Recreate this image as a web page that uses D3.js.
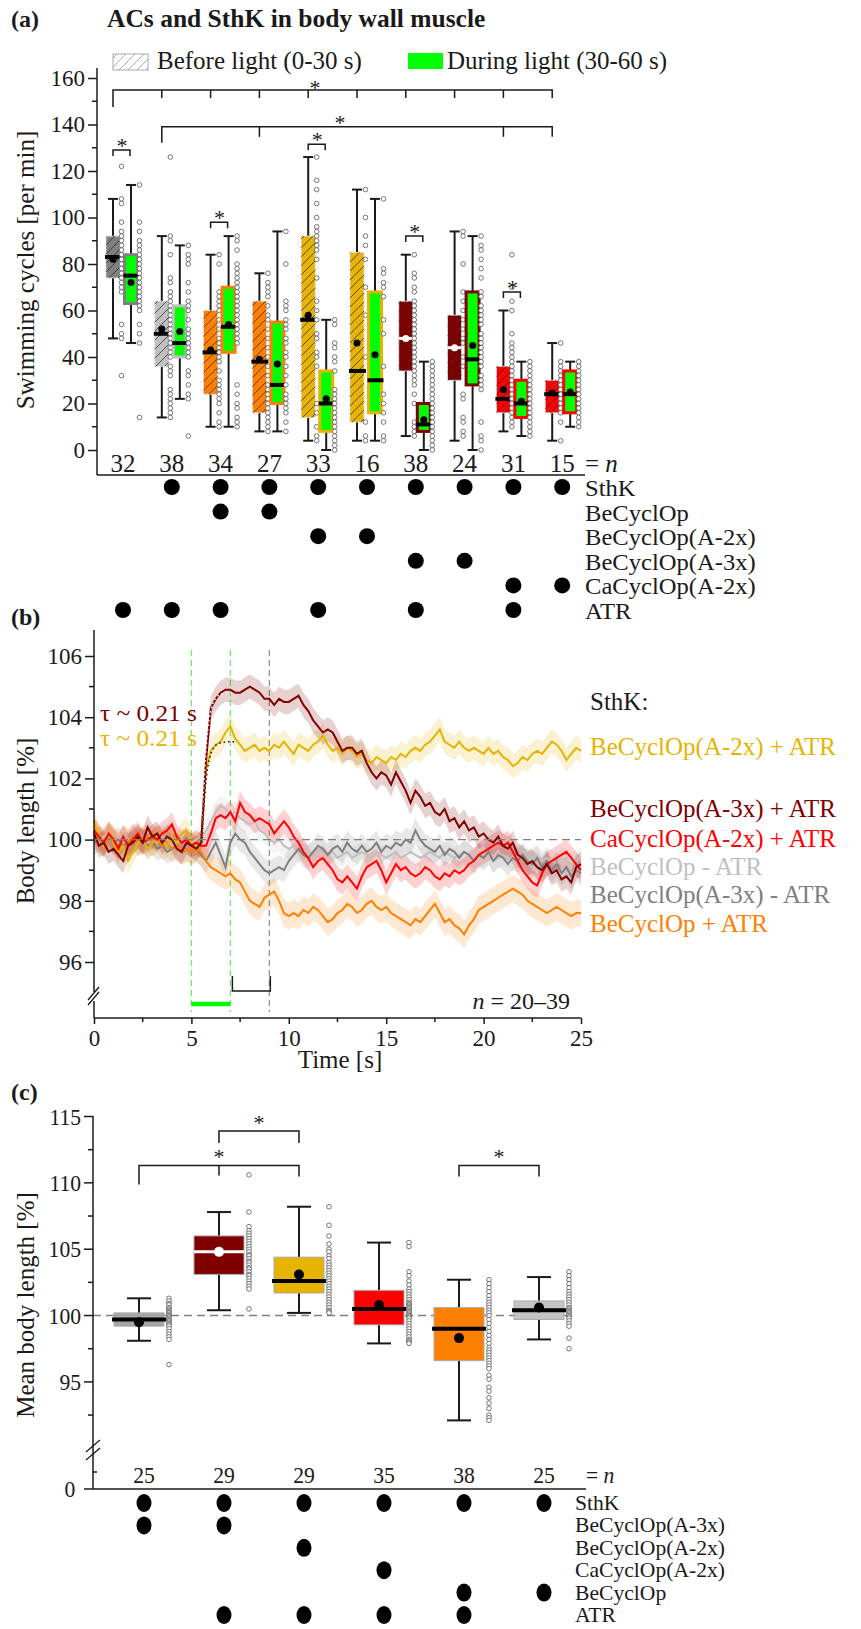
<!DOCTYPE html>
<html>
<head>
<meta charset="utf-8">
<script src="https://cdn.jsdelivr.net/npm/d3@7"></script>
<style>
  body { margin: 0; background: #fff; }
  text { font-family: "Liberation Serif", "Times New Roman", serif; }
</style>
</head>
<body>
<div id="chart"></div>
<script>
// ---------- panel (a) data ----------
var groupsA = [0, 1, 2, 3, 4, 5, 6, 7, 8, 9];
var nA = [32, 38, 34, 27, 33, 16, 38, 24, 31, 15];
var colorA = ["#808080", "#c0c0c0", "#ff8000", "#ff8000", "#e6b400", "#e6b400", "#800000", "#800000", "#ff0000", "#ff0000"];
// [low whisker, q1, median, q3, high whisker, mean]
var beforeA = [
  [48, 74, 83, 92, 108, 82], [14, 36, 50, 64, 92, 52], [10, 24, 42, 60, 84, 43],
  [8, 16, 38, 64, 76, 39], [4, 14, 56, 92, 126, 58], [4, 12, 34, 85, 112, 46],
  [6, 34, 48, 64, 84, 48], [4, 30, 44, 58, 94, 44], [8, 16, 22, 36, 60, 26],
  [4, 16, 24, 30, 46, 24.5]];
var duringA = [
  [46, 63, 75, 84, 114, 72], [22, 40, 46, 62, 88, 51], [10, 42, 53, 70, 92, 54],
  [8, 20, 28, 55, 94, 37], [0, 8, 20, 34, 56, 22], [4, 16, 30, 68, 108, 41],
  [0, 8, 11, 20, 38, 13], [0, 28, 39, 68, 92, 45], [6, 14, 20, 30, 38, 21],
  [10, 16, 24, 34, 38, 25]];
var notchA = [false, false, false, false, false, false, true, true, false, false];
var beforePts = [
  [122, 108, 106, 98, 94, 92, 90, 88, 86, 84, 82, 80, 78, 76, 74, 72, 70, 68, 54, 50, 48, 32],
  [126, 92, 90, 84, 74, 72, 68, 66, 64, 62, 60, 58, 56, 54, 52, 50, 48, 46, 44, 42, 40, 36, 34, 32, 26, 24, 22, 20, 18, 16, 14],
  [84, 80, 68, 66, 64, 62, 60, 56, 52, 48, 46, 44, 42, 40, 38, 34, 30, 28, 26, 24, 22, 20, 16, 12, 10],
  [76, 72, 70, 68, 66, 62, 58, 56, 52, 48, 44, 40, 36, 32, 28, 26, 24, 22, 20, 18, 16, 14, 12, 10, 8],
  [126, 116, 112, 106, 100, 96, 94, 92, 90, 88, 86, 82, 74, 64, 60, 56, 50, 48, 42, 40, 36, 20, 16, 10, 6, 4],
  [112, 100, 92, 88, 82, 70, 58, 40, 12, 6, 4],
  [84, 76, 74, 70, 68, 64, 62, 60, 58, 56, 54, 52, 50, 48, 46, 44, 42, 40, 38, 36, 34, 32, 30, 28, 24, 20, 12, 10, 8, 6],
  [94, 92, 80, 68, 64, 60, 56, 52, 48, 46, 40, 36, 24, 22, 14, 12, 8, 6],
  [84, 70, 64, 60, 50, 46, 44, 42, 40, 38, 36, 34, 32, 30, 28, 26, 24, 22, 20, 18, 16, 14, 12, 10],
  [46, 38, 36, 34, 32, 30, 28, 26, 24, 22, 20, 18, 16, 12, 4]];
var duringPts = [
  [114, 98, 94, 90, 88, 86, 84, 82, 80, 78, 76, 74, 72, 70, 68, 66, 64, 62, 60, 54, 50, 46, 14],
  [88, 84, 82, 80, 72, 68, 64, 62, 60, 56, 52, 50, 48, 46, 44, 42, 40, 34, 32, 28, 24, 22, 6],
  [92, 90, 86, 80, 78, 76, 74, 72, 70, 68, 66, 64, 62, 60, 58, 56, 54, 52, 50, 48, 46, 28, 24, 20, 18, 14, 12, 10],
  [94, 80, 64, 62, 60, 56, 54, 52, 48, 46, 42, 40, 36, 32, 28, 24, 22, 20, 18, 16, 12, 8],
  [56, 54, 46, 44, 40, 38, 34, 26, 24, 22, 20, 18, 16, 14, 12, 10, 8, 6, 4, 2, 0],
  [108, 78, 76, 72, 70, 66, 56, 50, 36, 24, 20, 16, 12, 6, 4],
  [38, 36, 34, 32, 30, 28, 26, 24, 22, 20, 18, 16, 14, 12, 10, 8, 6, 4, 2, 0],
  [92, 88, 86, 82, 78, 74, 68, 66, 62, 60, 58, 56, 54, 50, 48, 46, 44, 42, 40, 38, 36, 32, 30, 28, 26, 12, 6, 4, 0],
  [38, 36, 34, 32, 30, 28, 26, 24, 22, 20, 18, 16, 14, 12, 10, 8, 6],
  [38, 36, 34, 32, 30, 28, 26, 24, 22, 20, 18, 16, 14, 12, 10]];
var rowsA = ["SthK", "BeCyclOp", "BeCyclOp(A-2x)", "BeCyclOp(A-3x)", "CaCyclOp(A-2x)", "ATR"];
var matrixA = [
  [0, 0, 0, 0, 0, 1], [1, 0, 0, 0, 0, 1], [1, 1, 0, 0, 0, 1], [1, 1, 0, 0, 0, 0], [1, 0, 1, 0, 0, 1],
  [1, 0, 1, 0, 0, 0], [1, 0, 0, 1, 0, 1], [1, 0, 0, 1, 0, 0], [1, 0, 0, 0, 1, 1], [1, 0, 0, 0, 1, 0]];
// pairwise before/during brackets: group, bracket height (per min)
var pairSigA = [[0, 129], [2, 98], [4, 131.5], [6, 92], [8, 68]];

// ---------- panel (b) data, sampled every 0.25 s from 0 to 25 s ----------
var timeStep = 0.25;
var lenA2xATR = [100.6, 100.1, 99.8, 100.2, 99.9, 99.6, 99.8, 99.3, 99.6, 99.9, 100.0, 99.7, 99.9, 100.1, 100.0, 99.8, 100.1, 99.9, 100.2, 100.3, 99.9,
  99.8, 99.9, 102.3, 102.9, 103.1, 103.2, 103.5, 103.7, 103.3, 103.1, 102.9, 103.0, 103.1, 102.9, 103.0, 102.9, 103.1, 103.0, 103.2, 103.0,
  102.8, 103.1, 103.0, 102.9, 103.1, 103.2, 103.4, 103.1, 102.9, 103.0, 102.8, 103.0, 102.9, 102.7, 102.8, 102.6, 102.5, 102.7, 102.6, 102.5,
  102.7, 102.6, 102.8, 102.7, 102.9, 103.0, 102.9, 103.1, 103.2, 103.4, 103.6, 103.2, 103.1, 103.0, 103.2, 103.0, 102.9, 103.0, 102.9, 102.8,
  103.0, 102.8, 102.9, 102.7, 102.6, 102.4, 102.5, 102.7, 102.6, 102.8, 102.9, 102.8, 103.0, 103.2, 103.1, 102.9, 102.6, 102.8, 103.0, 102.9];
var lenA3xATR = [100.2, 99.8, 99.9, 99.6, 99.7, 99.5, 99.3, 99.8, 99.9, 100.1, 99.9, 100.4, 100.1, 100.2, 99.9, 100.1, 100.0, 99.7, 99.6, 99.9, 99.8,
  99.7, 99.9, 102.6, 104.3, 104.6, 104.8, 104.9, 104.9, 104.8, 104.8, 104.9, 105.0, 104.9, 104.8, 104.6, 104.6, 104.4, 104.6, 104.5, 104.5,
  104.6, 104.7, 104.4, 104.2, 103.9, 103.7, 103.5, 103.6, 103.5, 103.2, 102.9, 103.0, 103.0, 102.8, 102.9, 102.5, 102.2, 102.0, 102.2, 102.1,
  101.8, 102.2, 101.9, 101.6, 101.2, 101.6, 101.4, 101.1, 101.2, 100.9, 100.8, 101.0, 100.6, 100.7, 100.4, 100.6, 100.3, 100.4, 100.1, 100.2,
  100.0, 99.9, 100.1, 99.8, 99.7, 99.9, 99.5, 99.4, 99.2, 99.3, 99.1, 99.0, 99.2, 98.9, 99.0, 98.7, 98.8, 98.6, 99.1, 99.2];
var lenCaATR = [100.3, 100.1, 99.9, 100.2, 100.0, 99.7, 100.1, 99.8, 100.0, 100.2, 99.9, 100.0, 100.1, 100.0, 100.2, 100.3, 100.5, 100.1, 99.9, 100.0, 99.8,
  99.9, 99.8, 99.8, 100.2, 100.7, 100.8, 100.7, 100.9, 100.6, 101.2, 100.9, 100.8, 100.6, 100.7, 100.6, 100.5, 100.2, 100.4, 100.6, 100.4,
  100.1, 99.9, 99.6, 99.4, 99.1, 99.3, 99.4, 99.2, 99.0, 98.7, 98.6, 98.8, 98.6, 98.4, 98.8, 99.1, 99.2, 99.3, 99.0, 98.6,
  98.9, 99.2, 99.0, 99.1, 98.9, 98.8, 98.9, 99.1, 99.0, 98.8, 98.7, 98.9, 98.8, 99.0, 98.9, 99.0, 99.2, 99.3, 99.5, 99.6,
  99.7, 99.8, 99.9, 99.8, 99.9, 99.6, 99.3, 99.0, 98.8, 98.6, 98.5, 98.9, 99.2, 99.3, 99.4, 99.5, 99.6, 99.4, 99.2, 99.0];
var lenBeNoATR = [100.0, 99.9, 100.1, 100.2, 100.0, 99.9, 100.1, 100.0, 99.9, 100.1, 100.0, 99.8, 100.0, 99.9, 100.1, 100.0, 99.8, 99.9, 100.0, 99.9, 99.9,
  100.0, 100.1, 100.3, 100.6, 100.9, 101.1, 101.0, 100.8, 100.9, 100.7, 100.6, 100.5, 100.6, 100.3, 100.2, 100.0, 99.9, 100.0, 99.8, 99.7,
  99.8, 99.6, 99.7, 99.6, 99.5, 99.7, 99.6, 99.5, 99.6, 99.4, 99.5, 99.6, 99.4, 99.5, 99.6, 99.5, 99.4, 99.6, 99.5, 99.4,
  99.5, 99.6, 99.4, 99.5, 99.6, 99.5, 99.4, 99.5, 99.6, 99.5, 99.4, 99.6, 99.5, 99.4, 99.5, 99.6, 99.5, 99.4, 99.5, 99.4,
  99.5, 99.3, 99.4, 99.5, 99.4, 99.3, 99.5, 99.4, 99.3, 99.4, 99.5, 99.3, 99.4, 99.3, 99.2, 99.4, 99.3, 99.2, 99.3, 99.4];
var lenA3xNoATR = [99.9, 100.0, 99.8, 100.1, 99.9, 100.0, 99.8, 99.9, 100.1, 99.9, 100.0, 99.8, 99.9, 99.7, 99.8, 99.6, 99.7, 99.8, 99.6, 99.7, 99.6,
  99.7, 99.5, 99.3, 99.6, 99.9, 99.5, 99.1, 99.9, 100.2, 100.0, 99.9, 99.6, 99.4, 99.2, 99.0, 98.9, 99.0, 99.1, 99.0, 99.3,
  99.5, 99.7, 99.5, 99.4, 99.6, 99.8, 99.7, 99.5, 99.7, 99.8, 99.6, 99.9, 99.7, 99.6, 99.8, 99.6, 99.7, 99.9, 99.6, 99.8,
  99.7, 99.9, 99.8, 100.0, 99.9, 100.3, 100.0, 99.8, 99.7, 99.6, 99.8, 99.5, 99.7, 99.6, 99.4, 99.6, 99.5, 99.3, 99.5, 99.4,
  99.6, 99.3, 99.5, 99.4, 99.2, 99.4, 99.3, 99.5, 99.3, 99.2, 99.4, 99.1, 99.3, 99.0, 99.2, 98.9, 99.1, 98.8, 99.0, 98.9];
var lenBeATR = [100.3, 100.0, 99.9, 100.1, 100.0, 99.8, 100.0, 99.9, 100.1, 99.9, 100.0, 100.1, 99.9, 100.0, 99.8, 99.9, 99.7, 99.8, 99.6, 99.7, 99.6,
  99.7, 99.6, 99.3, 99.1, 99.0, 98.9, 98.8, 98.9, 98.7, 98.6, 98.3, 98.0, 97.9, 97.8, 98.1, 98.2, 98.3, 98.0, 97.6, 97.5,
  97.6, 97.5, 97.7, 97.6, 97.8, 97.7, 97.5, 97.3, 97.4, 97.6, 97.7, 97.9, 97.8, 97.6, 97.7, 97.9, 98.0, 97.8, 97.7, 97.8,
  97.6, 97.5, 97.4, 97.3, 97.2, 97.4, 97.3, 97.5, 97.7, 97.9, 97.6, 97.3, 97.4, 97.2, 97.1, 96.9, 97.2, 97.4, 97.7, 97.8,
  97.9, 98.0, 98.1, 98.2, 98.3, 98.4, 98.3, 98.2, 98.0, 97.9, 97.8, 97.7, 97.6, 97.7, 97.8, 97.7, 97.6, 97.5, 97.6, 97.6];
var namesB = ["BeCyclOp - ATR", "BeCyclOp(A-3x) - ATR", "BeCyclOp + ATR", "BeCyclOp(A-2x) + ATR", "CaCyclOp(A-2x) + ATR", "BeCyclOp(A-3x) + ATR"];
var valuesB = [lenBeNoATR, lenA3xNoATR, lenBeATR, lenA2xATR, lenCaATR, lenA3xATR];
var semB = [0.35, 0.4, 0.45, 0.4, 0.4, 0.4];
var colorB = ["#c0c0c0", "#808080", "#ff8000", "#e6b400", "#ff0000", "#800000"];
var legendOrderB = [3, 5, 4, 0, 1, 2];
var tauB = 0.21;

// ---------- panel (c) data ----------
var groupsC = [0, 1, 2, 3, 4, 5];
var nC = [25, 29, 29, 35, 38, 25];
var colorC = ["#a6a6a6", "#800000", "#e6b400", "#ff0000", "#ff8000", "#c4c4c4"];
var statsC = [
  [98.1, 99.2, 99.7, 100.2, 101.3, 99.5], [100.4, 103.1, 104.8, 106.0, 107.8, 104.8],
  [100.2, 101.7, 102.6, 104.4, 108.2, 103.1], [97.9, 99.3, 100.5, 101.9, 105.5, 100.8],
  [92.1, 96.6, 99.0, 100.6, 102.7, 98.3], [98.2, 99.7, 100.4, 101.1, 102.9, 100.6]];
var notchC = [false, true, false, false, false, false];
var ptsC = [
  [101.3, 101.1, 100.9, 100.8, 100.6, 100.5, 100.4, 100.3, 100.2, 100.1, 100.0, 99.9, 99.8, 99.7, 99.6, 99.5, 99.4, 99.3, 99.2, 99.0, 98.8, 98.6, 98.4, 98.2, 96.3],
  [110.6, 107.8, 106.7, 106.4, 106.2, 106.0, 105.8, 105.6, 105.4, 105.2, 105.0, 104.8, 104.6, 104.5, 104.3, 104.1, 104.0, 103.8, 103.6, 103.5, 103.3, 103.1, 103.0, 102.8, 102.6, 102.4, 102.2, 102.0, 100.5],
  [108.2, 106.8, 106.0, 105.4, 105.0, 104.8, 104.5, 104.3, 104.0, 103.8, 103.6, 103.4, 103.2, 103.0, 102.8, 102.6, 102.4, 102.2, 102.0, 101.8, 101.6, 101.4, 101.2, 101.0, 100.8, 100.6, 100.4, 100.3, 100.2],
  [105.5, 105.2, 103.3, 103.0, 102.6, 102.3, 102.0, 101.8, 101.6, 101.4, 101.2, 101.0, 100.9, 100.8, 100.7, 100.6, 100.5, 100.4, 100.3, 100.2, 100.1, 100.0, 99.9, 99.8, 99.6, 99.4, 99.2, 99.0, 98.8, 98.6, 98.4, 98.2, 98.1, 98.0, 97.9],
  [102.7, 102.4, 102.1, 101.8, 101.5, 101.2, 101.0, 100.8, 100.6, 100.4, 100.2, 100.0, 99.7, 99.4, 99.1, 98.8, 98.5, 98.2, 97.9, 97.6, 97.4, 97.2, 97.0, 96.8, 96.6, 96.4, 96.2, 96.0, 95.5, 95.2, 94.6, 94.3, 93.8, 93.4, 93.0, 92.5, 92.3, 92.1],
  [103.3, 103.0, 102.7, 102.4, 102.1, 101.8, 101.6, 101.4, 101.2, 101.0, 100.8, 100.6, 100.5, 100.4, 100.3, 100.2, 100.1, 100.0, 99.9, 99.8, 99.6, 99.4, 99.2, 98.3, 97.5]];
var rowsC = ["SthK", "BeCyclOp(A-3x)", "BeCyclOp(A-2x)", "CaCyclOp(A-2x)", "BeCyclOp", "ATR"];
var matrixC = [[1, 1, 0, 0, 0, 0], [1, 1, 0, 0, 0, 1], [1, 0, 1, 0, 0, 1], [1, 0, 0, 1, 0, 1], [1, 0, 0, 0, 1, 1], [1, 0, 0, 0, 1, 0]];

// ---------------------------------------------------------
var ink = "#1a1a1a";
var svg = d3.select("#chart").append("svg").attr("width", 861).attr("height", 1629);
var defs = svg.append("defs");
function hatch(id, col) {
  defs.append("pattern").attr("id", id).attr("patternUnits", "userSpaceOnUse")
    .attr("width", 9).attr("height", 9)
    .append("path").attr("d", "M0,9 L9,0 M-2,2 L2,-2 M7,11 L11,7")
    .attr("stroke", col).attr("stroke-width", 0.7);
}
hatch("hatch", "#222");
hatch("hatchGray", "#888");

function line(g, x1, y1, x2, y2, w, col, dash) {
  var l = g.append("line").attr("x1", x1).attr("y1", y1).attr("x2", x2).attr("y2", y2)
    .attr("stroke", col || ink).attr("stroke-width", w || 1.5);
  if (dash) l.attr("stroke-dasharray", dash);
  return l;
}
function label(g, x, y, s, size, col) {
  return g.append("text").attr("x", x).attr("y", y).attr("font-size", size || 25)
    .style("fill", col || ink).text(s);
}
function bracket(g, x1, x2, y, d1, d2) {
  g.append("path").attr("d", "M" + x1 + "," + (y + d1) + "V" + y + "H" + x2 + "V" + (y + d2))
    .attr("fill", "none").attr("stroke", ink).attr("stroke-width", 1.5);
}
function star(g, x, yc, size) {
  label(g, x, yc + (size || 22) * 0.5, "*", size || 22).attr("text-anchor", "middle");
}

// ================= panel (a) =================
var ga = svg.append("g");
var xA = d3.scaleBand().domain(groupsA).range([98.6, 586.6]);
var yA = d3.scaleLinear().domain([0, 160]).range([450, 78]);
function cA(i) { return xA(i) + xA.bandwidth() / 2; }

label(ga, 11, 27, "(a)", 24).attr("font-weight", "bold");
label(ga, 107, 27, "ACs and SthK in body wall muscle", 25.5).attr("font-weight", "bold");

// legend
ga.append("rect").attr("x", 113).attr("y", 54).attr("width", 35).attr("height", 16).attr("fill", "#fff").attr("stroke", "#aaa");
ga.append("rect").attr("x", 113).attr("y", 54).attr("width", 35).attr("height", 16).attr("fill", "url(#hatchGray)");
label(ga, 157, 69, "Before light (0-30 s)", 25);
ga.append("rect").attr("x", 408).attr("y", 53).attr("width", 35).attr("height", 16).attr("fill", "#00ff00");
label(ga, 447, 69, "During light (30-60 s)", 25);

// axes
var axA = ga.append("g").attr("transform", "translate(97,0)")
  .call(d3.axisLeft(yA).tickValues(d3.range(0, 161, 20)).tickSize(9).tickPadding(3));
axA.select(".domain").remove();
axA.selectAll(".tick line").attr("stroke", ink).attr("stroke-width", 1.5);
axA.selectAll(".tick text").attr("font-size", 23).attr("font-family", null).style("fill", ink);
d3.range(10, 160, 20).forEach(function (v) { line(ga, 92, yA(v), 97, yA(v), 1.5); });
line(ga, 97, 68, 97, 475, 1.5);
line(ga, 97, 475, 585, 475, 1.5);
label(ga, 0, 0, "Swimming cycles [per min]", 25).attr("transform", "translate(34,270) rotate(-90)")
  .attr("text-anchor", "middle");

function boxA(cx, w, s, fill, stroke, sw, hatched, notch) {
  line(ga, cx, yA(s[0]), cx, yA(s[4]), 2);
  line(ga, cx - 5, yA(s[0]), cx + 5, yA(s[0]), 2);
  line(ga, cx - 5, yA(s[4]), cx + 5, yA(s[4]), 2);
  ga.append("rect").attr("x", cx - w / 2).attr("y", yA(s[3])).attr("width", w)
    .attr("height", yA(s[1]) - yA(s[3])).attr("fill", fill)
    .attr("stroke", stroke).attr("stroke-width", sw);
  if (hatched) {
    ga.append("rect").attr("x", cx - w / 2).attr("y", yA(s[3])).attr("width", w)
      .attr("height", yA(s[1]) - yA(s[3])).attr("fill", "url(#hatch)");
  }
  if (notch) {
    line(ga, cx - w / 2, yA(s[2]), cx + w / 2, yA(s[2]), 3, "#fff");
    ga.append("circle").attr("cx", cx).attr("cy", yA(s[5])).attr("r", 3.5).attr("fill", "#fff");
  } else {
    line(ga, cx - w / 2 - 1, yA(s[2]), cx + w / 2 + 2, yA(s[2]), 4, "#000");
    ga.append("circle").attr("cx", cx).attr("cy", yA(s[5])).attr("r", 3.5).attr("fill", "#000");
  }
}
function ptsCol(g, x, vals, ys) {
  g.selectAll(null).data(vals).enter().append("circle")
    .attr("cx", x).attr("cy", function (d) { return ys(d); }).attr("r", 2.3)
    .attr("fill", "#fff").attr("stroke", "#555").attr("stroke-width", 0.8);
}

groupsA.forEach(function (i) {
  var c = cA(i);
  boxA(c - 10, 14, beforeA[i], colorA[i], "#ddd", 0.8, true, notchA[i]);
  ptsCol(ga, c - 1.5, beforePts[i], yA);
  boxA(c + 8, 13, duringA[i], "#00ff00", colorA[i], 3, false, false);
  ptsCol(ga, c + 16.5, duringPts[i], yA);
  label(ga, c, 472, nA[i], 25).attr("text-anchor", "middle");
});
var eqA = label(ga, 585, 472, "= ", 25);
eqA.append("tspan").attr("font-style", "italic").text("n");

// significance
var topY = yA(154.8), secY = yA(139);
bracket(ga, cA(0) - 10, cA(9) - 10, topY, 17, 8);
groupsA.slice(1, 9).forEach(function (i) { line(ga, cA(i) - 10, topY, cA(i) - 10, topY + 8, 1.5); });
star(ga, 315, 84);
bracket(ga, cA(1) - 10, cA(9) - 10, secY, 16, 10);
[3, 8].forEach(function (i) { line(ga, cA(i) - 10, secY, cA(i) - 10, secY + 10, 1.5); });
star(ga, 340, 119);
pairSigA.forEach(function (p) {
  var y = yA(p[1]);
  bracket(ga, cA(p[0]) - 10, cA(p[0]) + 7, y, 6, 6);
  star(ga, cA(p[0]) - 1, y - 8);
});

// condition matrix
var rowA = d3.scalePoint().domain(rowsA).range([487, 610]);
rowsA.forEach(function (r, k) {
  label(ga, 0, 0, r, 23).attr("transform", "translate(585," + (rowA(r) + 9) + ") scale(1.07,1)");
  groupsA.forEach(function (i) {
    if (matrixA[i][k]) ga.append("circle").attr("cx", cA(i)).attr("cy", rowA(r)).attr("r", 8).attr("fill", "#000");
  });
});

// ================= panel (b) =================
var gb = svg.append("g");
var xB = d3.scaleLinear().domain([0, 25]).range([94, 581]);
var yB = d3.scaleLinear().domain([96, 106]).range([962, 656]);
label(gb, 11, 625, "(b)", 24).attr("font-weight", "bold");

// light stimulus markers
[5, 7].forEach(function (t) { line(gb, xB(t), 650, xB(t), 1012, 1.2, "#66ee66", "6,4"); });
line(gb, xB(9), 650, xB(9), 1012, 1.2, "#888", "6,4");
line(gb, xB(5), 1004, xB(7), 1004, 4.5, "#00ff00");
gb.append("path").attr("d", "M" + (xB(7) + 2) + ",976V991H" + (xB(9) + 1) + "V976")
  .attr("fill", "none").attr("stroke", ink).attr("stroke-width", 1.5);

var area = d3.area().x(function (d, i) { return xB(i * timeStep); });
var ln = d3.line().x(function (d, i) { return xB(i * timeStep); }).y(function (d) { return yB(d); });
valuesB.forEach(function (vals, s) {
  gb.append("path").datum(vals)
    .attr("d", area.y0(function (d) { return yB(d - semB[s]); }).y1(function (d) { return yB(d + semB[s]); }))
    .attr("fill", colorB[s]).attr("opacity", 0.18);
});
valuesB.forEach(function (vals, s) {
  gb.append("path").datum(vals).attr("d", ln).attr("fill", "none")
    .attr("stroke", colorB[s]).attr("stroke-width", 2);
});
// exponential rise fits (tau ~ 0.21 s)
function fitPath(amp, col) {
  var t0 = 5.55;
  var ts = d3.range(0, 1.7, 0.05);
  gb.append("path").datum(ts)
    .attr("d", d3.line().x(function (d) { return xB(t0 + d); })
      .y(function (d) { return yB(99.9 + amp * (1 - Math.exp(-d / tauB))); }))
    .attr("fill", "none").attr("stroke", col).attr("stroke-width", 1.4).attr("stroke-dasharray", "1.5,3");
}
fitPath(4.9, "#fff");
fitPath(3.3, "#000");
line(gb, 94, yB(100), 581, yB(100), 1.2, "#808080", "8,5");

// axes
var axB = gb.append("g").attr("transform", "translate(94,0)")
  .call(d3.axisLeft(yB).tickValues([96, 98, 100, 102, 104, 106]).tickSize(9).tickPadding(3));
axB.select(".domain").remove();
axB.selectAll(".tick line").attr("stroke", ink).attr("stroke-width", 1.5);
axB.selectAll(".tick text").attr("font-size", 23).attr("font-family", null).style("fill", ink);
[97, 99, 101, 103, 105].forEach(function (v) { line(gb, 89, yB(v), 94, yB(v), 1.5); });
var axBx = gb.append("g").attr("transform", "translate(0,1018)")
  .call(d3.axisBottom(xB).tickValues([0, 5, 10, 15, 20, 25]).tickSize(6).tickPadding(6));
axBx.select(".domain").remove();
axBx.selectAll(".tick line").attr("stroke", ink).attr("stroke-width", 1.5);
axBx.selectAll(".tick text").attr("font-size", 23).attr("font-family", null).style("fill", ink);
[2.5, 7.5, 12.5, 17.5, 22.5].forEach(function (t) { line(gb, xB(t), 1018, xB(t), 1022, 1.5); });
line(gb, 94, 630, 94, 1018, 1.5);
line(gb, 94, 1018, 581, 1018, 1.5);
gb.append("rect").attr("x", 90).attr("y", 992).attr("width", 8).attr("height", 9).attr("fill", "#fff");
line(gb, 88, 1000, 99, 987, 1.3);
line(gb, 88, 1005, 99, 992, 1.3);
label(gb, 0, 0, "Body length [%]", 25).attr("transform", "translate(34,821) rotate(-90)").attr("text-anchor", "middle");
label(gb, 340, 1068, "Time [s]", 25).attr("text-anchor", "middle");
var nB = label(gb, 570, 1009, "", 24).attr("text-anchor", "end");
nB.append("tspan").attr("font-style", "italic").text("n");
nB.append("tspan").text(" = 20\u201339");

label(gb, 0, 0, "\u03c4 ~ 0.21 s", 23, "#800000").attr("transform", "translate(100,721) scale(1.1,1)");
label(gb, 0, 0, "\u03c4 ~ 0.21 s", 23, "#e6b400").attr("transform", "translate(100,746) scale(1.1,1)");

// legend
label(gb, 590, 710, "SthK:", 25);
var legY = [755, 817, 847, 875, 903, 932];
legendOrderB.forEach(function (s, k) {
  label(gb, 590, legY[k], namesB[s], 25, colorB[s]);
});

// ================= panel (c) =================
var gc = svg.append("g");
var xC = d3.scaleBand().domain(groupsC).range([104, 584]);
var yC = d3.scaleLinear().domain([95, 115]).range([1381.9, 1116.5]);
function cC(i) { return xC(i) + xC.bandwidth() / 2; }
function ctext(x, y, s, anchor, size, sx) {
  return label(gc, 0, 0, s, size || 23).attr("transform", "translate(" + x + "," + y + ") scale(" + (sx || 0.9) + ",1)")
    .attr("text-anchor", anchor || "start");
}
label(gc, 11, 1100, "(c)", 24).attr("font-weight", "bold");

line(gc, 93, yC(100), 574, yC(100), 1.5, "#808080", "8,5");

// y axis
[95, 100, 105, 110, 115].forEach(function (v) {
  line(gc, 84, yC(v), 93, yC(v), 1.5);
  ctext(81, yC(v) + 8, v, "end", 24);
});
[92.5, 97.5, 102.5, 107.5, 112.5].forEach(function (v) { line(gc, 88, yC(v), 93, yC(v), 1.5); });
line(gc, 93, 1116, 93, 1489, 1.5);
line(gc, 84, 1489, 93, 1489, 1.5);
line(gc, 93, 1472, 97, 1472, 1.5);
ctext(70, 1497, "0", "middle", 24);
line(gc, 86, 1452, 100, 1440, 1.3);
line(gc, 86, 1460, 100, 1448, 1.3);
line(gc, 93, 1489, 586, 1489, 1.5);
label(gc, 0, 0, "Mean body length [%]", 25).attr("transform", "translate(34,1305) rotate(-90)")
  .attr("text-anchor", "middle");

groupsC.forEach(function (i) {
  var c = cC(i), bx = c - 5, s = statsC[i], w = 50;
  line(gc, bx, yC(s[0]), bx, yC(s[4]), 2);
  line(gc, bx - 12, yC(s[0]), bx + 12, yC(s[0]), 2);
  line(gc, bx - 12, yC(s[4]), bx + 12, yC(s[4]), 2);
  gc.append("rect").attr("x", bx - w / 2).attr("y", yC(s[3])).attr("width", w)
    .attr("height", yC(s[1]) - yC(s[3])).attr("fill", colorC[i]).attr("stroke", "#aaa").attr("stroke-width", 1);
  if (notchC[i]) {
    line(gc, bx - w / 2, yC(s[2]), bx + w / 2, yC(s[2]), 3, "#fff");
    gc.append("circle").attr("cx", bx).attr("cy", yC(s[5])).attr("r", 5).attr("fill", "#fff");
  } else {
    line(gc, bx - w / 2 - 2, yC(s[2]), bx + w / 2 + 2, yC(s[2]), 4, "#000");
    gc.append("circle").attr("cx", bx).attr("cy", yC(s[5])).attr("r", 5).attr("fill", "#000");
  }
  ptsCol(gc, c + 25, ptsC[i], yC);
  ctext(c, 1483, nC[i], "middle", 24);
});
ctext(586, 1483, "= ", "start", 24).append("tspan").attr("font-style", "italic").text("n");

// significance
bracket(gc, cC(0) - 5, cC(2) - 5, yC(111.3), 19, 11);
line(gc, cC(1) - 5, yC(111.3), cC(1) - 5, yC(111.3) + 10, 1.5);
star(gc, cC(1) - 5, 1153);
bracket(gc, cC(1) - 5, cC(2) - 5, yC(113.9), 12, 12);
star(gc, (cC(1) + cC(2)) / 2 - 5, 1119);
bracket(gc, cC(4) - 5, cC(5) - 5, yC(111.3), 11, 11);
star(gc, (cC(4) + cC(5)) / 2 - 5, 1153);

// condition matrix
var rowC = d3.scalePoint().domain(rowsC).range([1503, 1615]);
rowsC.forEach(function (r, k) {
  ctext(575, rowC(r) + 7, r, "start", 21, 1.03);
  groupsC.forEach(function (i) {
    if (matrixC[i][k]) gc.append("ellipse").attr("cx", cC(i)).attr("cy", rowC(r)).attr("rx", 7.5).attr("ry", 9).attr("fill", "#000");
  });
});
</script>
</body>
</html>
